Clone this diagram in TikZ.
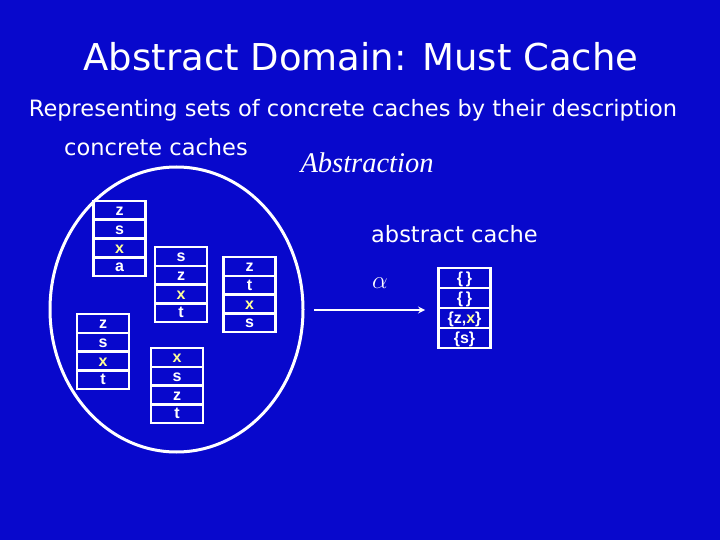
\documentclass[tikz,border=0pt]{standalone}
\usepackage{fontspec}
\setmainfont{DejaVu Sans}
\newfontfamily\cellfont{Liberation Sans}
\newfontfamily\abstrfont{Liberation Serif}
\usetikzlibrary{shapes.geometric}
\definecolor{slideblue}{RGB}{8,8,204}
\definecolor{hiyellow}{RGB}{255,255,150}

\newcommand{\hx}{\textcolor{hiyellow}{x}}
% one cache: name, centre x, top y, cell height, four lines
\newcommand{\cachecol}[8]{
        \node[cell, minimum height=#4] (#1-1) at (#2,#3+#4*0.5) {#5};
        \node[cell, minimum height=#4] (#1-2) at (#2,#3+#4*1.5) {#6};
        \node[cell, minimum height=#4] (#1-3) at (#2,#3+#4*2.5) {#7};
        \node[cell, minimum height=#4] (#1-4) at (#2,#3+#4*3.5) {#8};
    }

\begin{document}
\begin{tikzpicture}
                [
                x=1pt, y=-1pt,
                cell/.style={rectangle,draw=white,line width=2.5pt,minimum width=52pt,inner sep=0pt,
                    text=white,text height=10.5pt,text depth=0pt,font=\cellfont\bfseries\fontsize{16}{16}\selectfont},
                slidetext/.style={text=white,anchor=base,inner sep=0pt},
                arrow/.style={->,>=stealth,line width=2pt,draw=white},
                ]
                \fill[slideblue] (0,0) rectangle (720,540);
                \useasboundingbox (0,0) rectangle (720,540);

                \node[slidetext,font=\fontsize{37}{37}\selectfont] (title) at (361,71) {Abstract Domain: Must Cache};
                \node[slidetext,font=\fontsize{22.5}{22.5}\selectfont] (sub) at (353,117) {Representing sets of concrete caches by their description};
                \node[slidetext,font=\fontsize{22.5}{22.5}\selectfont] (conclabel) at (156,156) {concrete caches};
                \node[slidetext,font=\abstrfont\itshape\fontsize{28.5}{28.5}\selectfont] (abstrlabel) at (367,173) {Abstraction};
                \node[slidetext,font=\fontsize{22.5}{22.5}\selectfont] (abslabel) at (454.5,242) {abstract cache};
                \node[slidetext,font=\fontsize{24}{24}\selectfont] (alpha) at (380,288) {$\alpha$};

                % set of concrete caches
                \node[ellipse,draw=white,line width=3pt,minimum width=253pt,minimum height=285pt] (conc) at (176.5,309.5) {};
                \cachecol{ca}{119.5}{201}{18.75}{z}{s}{\hx}{a}
                \cachecol{cb}{181}{247}{18.75}{s}{z}{\hx}{t}
                \cachecol{cc}{249.5}{257}{18.75}{z}{t}{\hx}{s}
                \cachecol{cd}{103}{314}{18.75}{z}{s}{\hx}{t}
                \cachecol{ce}{177}{348}{18.75}{\hx}{s}{z}{t}

                % abstract cache
                \cachecol{abs}{464.5}{268}{20}{\{\,\}}{\{\,\}}{\{z,\hx\}}{\{s\}}

                \coordinate (from) at (314,310);
                \coordinate (to) at (425,310);
                \draw[arrow] (from) -- (to);
            \end{tikzpicture}
\end{document}
